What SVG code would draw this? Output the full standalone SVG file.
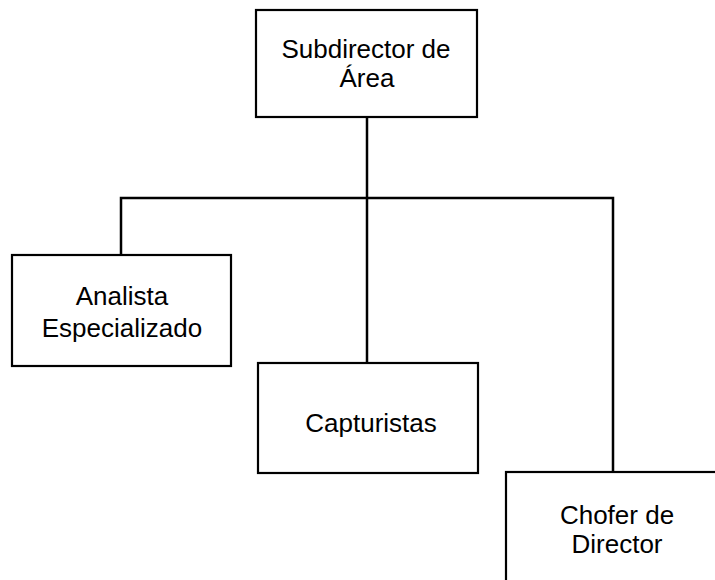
<svg xmlns="http://www.w3.org/2000/svg" width="715" height="580" viewBox="0 0 715 580">
<style>
.box{fill:#fff;stroke:#000;stroke-width:2.2}
.ln{fill:none;stroke:#000;stroke-width:2.5}
.t{font-family:"Liberation Sans",Arial,sans-serif;font-size:26px;fill:#000;text-anchor:middle}
</style>
<rect x="0" y="0" width="715" height="580" fill="#fff"/>
<g id="connectors">
<line class="ln" x1="367" y1="117" x2="367" y2="363"/>
<polyline class="ln" points="121,255 121,198 613,198 613,472"/>
</g>
<g id="subdirector">
<rect class="box" x="256" y="10" width="221" height="107"/>
<text class="t" x="366" y="58">Subdirector de</text>
<text class="t" x="367" y="87">Área</text>
</g>
<g id="analista">
<rect class="box" x="12" y="255" width="219" height="111"/>
<text class="t" x="122" y="305">Analista</text>
<text class="t" x="122" y="337">Especializado</text>
</g>
<g id="capturistas">
<rect class="box" x="258" y="363" width="220" height="110"/>
<text class="t" x="371" y="432">Capturistas</text>
</g>
<g id="chofer">
<rect class="box" x="506" y="472" width="220" height="120"/>
<text class="t" x="617" y="524">Chofer de</text>
<text class="t" x="617" y="553">Director</text>
</g>
</svg>
